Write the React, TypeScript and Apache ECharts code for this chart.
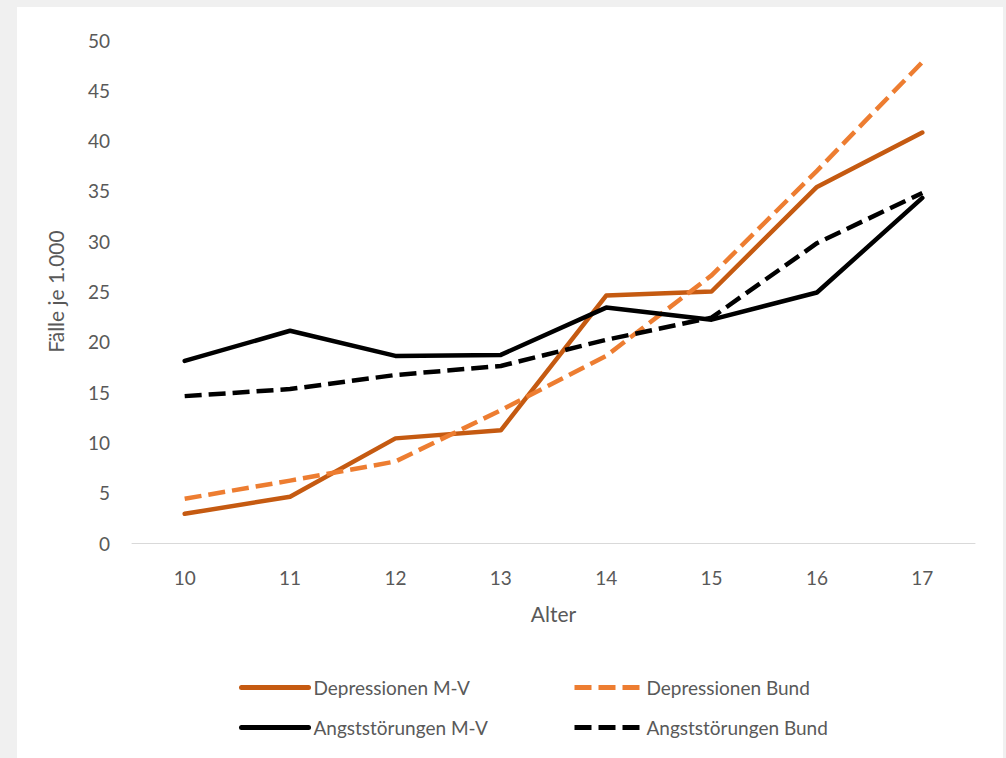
import React, { useEffect, useRef } from "react";
import * as echarts from "echarts";

const categories = ["10", "11", "12", "13", "14", "15", "16", "17"];
const depressionenMV = [2.9, 4.6, 10.4, 11.2, 24.6, 25.0, 35.4, 40.8];
const depressionenBund = [4.4, 6.2, 8.1, 13.2, 18.6, 26.6, 37.0, 47.8];
const angstMV = [18.1, 21.1, 18.6, 18.7, 23.4, 22.2, 24.9, 34.3];
const angstBund = [14.6, 15.3, 16.7, 17.6, 20.2, 22.4, 29.8, 34.8];

const FONT = "Lato, 'Open Sans', sans-serif";
const TXT = "#595959";

export default function App() {
  const ref = useRef<HTMLDivElement>(null);
  useEffect(() => {
    if (!ref.current) return;
    const chart = echarts.init(ref.current, undefined, { renderer: "svg" });
    const legendBase = {
      itemWidth: 67,
      itemHeight: 14,
      itemGap: 8,
      textStyle: { color: TXT, fontSize: 19, fontFamily: FONT },
      selectedMode: false,
      itemStyle: { opacity: 0, borderWidth: 0 },
      lineStyle: { width: 5 },
    };
    const mk = (name: string, data: number[], color: string, dashed: boolean) => ({
      name,
      type: "line",
      data,
      symbol: "none",
      lineStyle: {
        color,
        width: 4.5,
        type: dashed ? [17, 7] : "solid",
        cap: dashed ? "butt" : "round",
        join: "round",
      },
      itemStyle: { color },
    });
    chart.setOption({
      animation: false,
      textStyle: { fontFamily: FONT },
      grid: { left: 115, top: 33, right: 28, bottom: 215, containLabel: false },
      legend: [
        { ...legendBase, data: ["Depressionen M-V"], left: 217, top: 666 },
        { ...legendBase, data: ["Depressionen Bund"], left: 550, top: 666 },
        { ...legendBase, data: ["Angststörungen M-V"], left: 217, top: 706 },
        { ...legendBase, data: ["Angststörungen Bund"], left: 550, top: 706 },
      ],
      xAxis: {
        type: "category",
        data: categories,
        boundaryGap: true,
        axisLine: { lineStyle: { color: "#d9d9d9", width: 1 } },
        axisTick: { show: false },
        axisLabel: { color: TXT, fontSize: 19, fontFamily: FONT, margin: 25 },
        name: "Alter",
        nameLocation: "middle",
        nameGap: 60,
        nameTextStyle: { color: TXT, fontSize: 21, fontFamily: FONT },
      },
      yAxis: {
        type: "value",
        min: 0,
        max: 50,
        interval: 5,
        axisLine: { show: false },
        axisTick: { show: false },
        splitLine: { show: false },
        axisLabel: { color: TXT, fontSize: 19, fontFamily: FONT, margin: 22 },
        name: "Fälle je 1.000",
        nameLocation: "middle",
        nameGap: 66,
        nameTextStyle: { color: TXT, fontSize: 21, fontFamily: FONT },
      },
      series: [
        mk("Depressionen M-V", depressionenMV, "#c55a11", false),
        mk("Depressionen Bund", depressionenBund, "#ed7d31", true),
        mk("Angststörungen M-V", angstMV, "#000000", false),
        mk("Angststörungen Bund", angstBund, "#000000", true),
      ],
    });
    return () => chart.dispose();
  }, []);
  return (
    <div style={{ position: "absolute", left: 0, top: 0, width: 1006, height: 758, background: "#f0f0f0", overflow: "hidden" }}>
      <div
        ref={ref}
        style={{ position: "absolute", left: 17, top: 7, width: 986, height: 751, background: "#ffffff" }}
      />
    </div>
  );
}
